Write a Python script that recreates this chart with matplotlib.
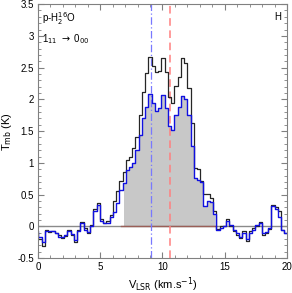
"""
p-H2O 1_11 -> 0_00 line profile, panel H
"""
import numpy as np
import matplotlib
matplotlib.use('Agg')
import matplotlib.pyplot as plt
from matplotlib.ticker import MultipleLocator

# channel centres (km/s)
v_lsr = [-0.10, 0.16, 0.42, 0.68, 0.94, 1.20, 1.46, 1.72, 1.98, 2.24,
         2.50, 2.76, 3.02, 3.28, 3.54, 3.80, 4.06, 4.32, 4.58, 4.84,
         5.10, 5.36, 5.62, 5.88, 6.14, 6.40, 6.66, 6.92, 7.18, 7.44,
         7.70, 7.96, 8.22, 8.48, 8.74, 9.00, 9.26, 9.52, 9.78, 10.04,
         10.30, 10.56, 10.82, 11.08, 11.34, 11.60, 11.86, 12.12, 12.38, 12.64,
         12.90, 13.16, 13.42, 13.68, 13.94, 14.20, 14.46, 14.72, 14.98, 15.24,
         15.50, 15.76, 16.02, 16.28, 16.54, 16.80, 17.06, 17.32, 17.58, 17.84,
         18.10, 18.36, 18.62, 18.88, 19.14, 19.40, 19.66, 19.92, 20.18]

# observed spectrum (black)
t_obs = [-0.10, -0.20, -0.31, -0.06, -0.09, -0.07, -0.11, -0.14, -0.19, -0.15,
         -0.05, -0.13, -0.24, -0.05, 0.07, -0.03, -0.11, 0.02, 0.27, 0.37,
         0.11, 0.06, 0.08, 0.18, 0.40, 0.55, 0.72, 0.85, 1.04, 1.10,
         1.23, 1.40, 1.75, 2.12, 2.42, 2.67, 2.53, 2.43, 2.45, 2.65,
         2.43, 2.03, 1.94, 2.21, 2.35, 2.65, 2.58, 2.18, 1.62, 0.92,
         0.90, 0.71, 0.51, 0.51, 0.45, 0.25, -0.04, 0.00, 0.00, 0.11,
         0.00, -0.08, -0.13, -0.19, -0.08, -0.23, -0.08, -0.03, 0.00, 0.07,
         -0.13, -0.11, -0.04, 0.33, 0.31, 0.25, -0.05, -0.11, 0.00]

# corrected spectrum (blue)
t_cor = [-0.07, -0.17, -0.25, -0.08, -0.07, -0.08, -0.10, -0.16, -0.17, -0.13,
         -0.07, -0.12, -0.21, -0.07, 0.05, -0.05, -0.09, 0.00, 0.24, 0.33,
         0.09, 0.05, 0.06, 0.14, 0.22, 0.37, 0.57, 0.69, 0.88, 0.93,
         1.00, 1.20, 1.44, 1.70, 1.88, 2.09, 1.95, 1.82, 1.87, 2.07,
         1.87, 1.58, 1.52, 1.75, 1.88, 2.06, 2.00, 1.75, 1.27, 0.76,
         0.73, 0.70, 0.32, 0.40, 0.38, 0.20, -0.05, -0.02, 0.00, 0.09,
         0.02, -0.06, -0.11, -0.17, -0.10, -0.20, -0.10, -0.05, 0.02, 0.05,
         -0.11, -0.09, -0.03, 0.32, 0.28, 0.15, -0.05, -0.10, 0.00]

v_int = (6.7, 14.3)   # integration window
v_blue = 9.05
v_red = 10.6

v = np.array(v_lsr)
plt.rcParams['font.family'] = 'Liberation Sans'
fig = plt.figure(figsize=(2.92, 2.93), dpi=100)
ax = fig.add_axes([0.130, 0.119, 0.853, 0.867])

sel = (v >= v_int[0]) & (v <= v_int[1])
ax.fill_between(v, t_cor, 0, where=sel, step='mid', color='#c8c8c8', lw=0)
ax.axhline(0, color='#8a8a8a', lw=1.0)
ax.plot(v_int, [0, 0], color='#9a5f58', lw=1.0)
ax.axvline(v_blue, color='#7878ff', lw=0.9, ls=(0, (6, 2, 1, 2)))
ax.axvline(v_red, color='#ff8080', lw=1.1, ls=(0, (5, 3)))
ax.step(v, t_obs, where='mid', color='#262626', lw=0.9)
ax.step(v, t_cor, where='mid', color='#1010e0', lw=1.0)

ax.set_xlim(0, 20)
ax.set_ylim(-0.5, 3.5)
ax.xaxis.set_major_locator(MultipleLocator(5))
ax.xaxis.set_minor_locator(MultipleLocator(1))
ax.yaxis.set_major_locator(MultipleLocator(0.5))
ax.yaxis.set_minor_locator(MultipleLocator(0.1))
ax.set_yticks([-0.5, 0, 0.5, 1, 1.5, 2, 2.5, 3, 3.5])
ax.set_yticklabels(['-0.5', '0', '0.5', '1', '1.5', '2', '2.5', '3', '3.5'])
ax.tick_params(which='both', direction='in', top=True, right=True,
               color='#808080', labelsize=7, pad=3)
ax.tick_params(which='major', length=4)
ax.tick_params(which='minor', length=2)
for s in ax.spines.values():
    s.set_color('#808080')

ax.set_xlabel(r'V$_{\rm LSR}$ (km.s$^{-1}$)', fontsize=8, labelpad=2)
ax.set_ylabel(r'T$_{\rm mb}$ (K)', fontsize=8, labelpad=2)
ax.text(0.015, 0.975, r'p-H$_2^{16}$O', transform=ax.transAxes,
        fontsize=7, va='top', ha='left')
ax.text(0.015, 0.89, r'1$_{11}$ $\rightarrow$ 0$_{00}$', transform=ax.transAxes,
        fontsize=7, va='top', ha='left')
ax.text(0.975, 0.97, 'H', transform=ax.transAxes, fontsize=7,
        va='top', ha='right')

fig.savefig('out.png', dpi=100)
